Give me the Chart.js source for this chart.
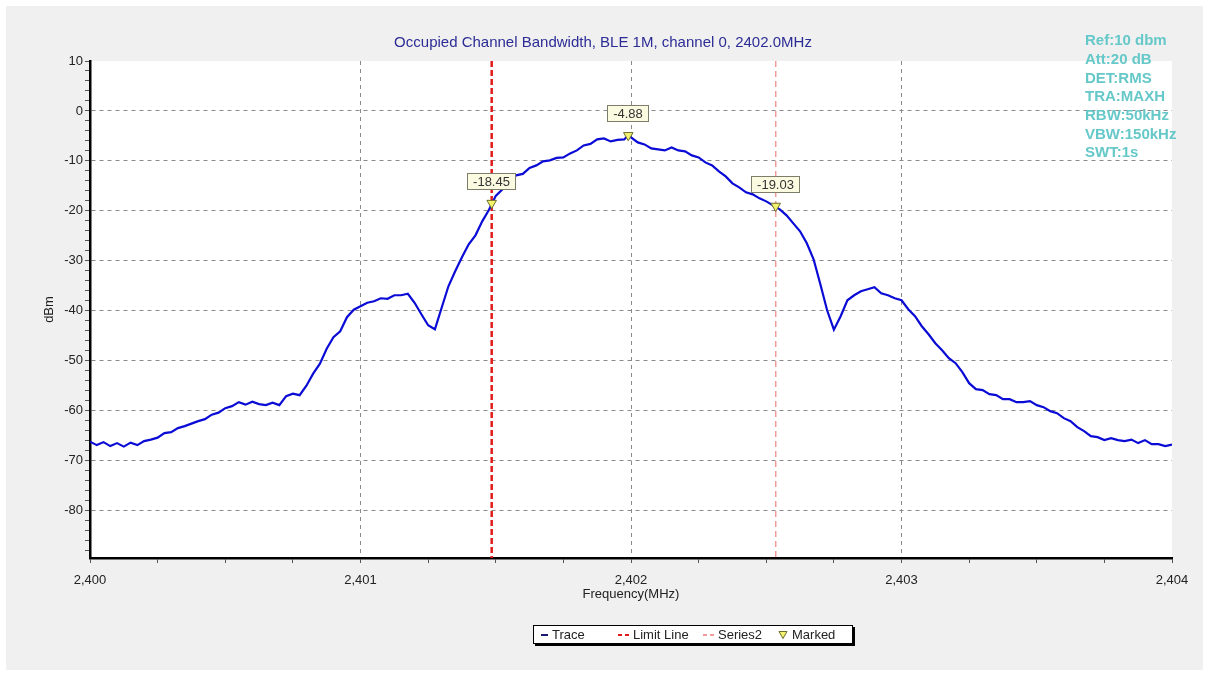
<!DOCTYPE html>
<html>
<head>
<meta charset="utf-8">
<title>Occupied Channel Bandwidth</title>
<script src="https://cdn.jsdelivr.net/npm/chart.js@4.4.1/dist/chart.umd.min.js"></script>
<style>
  html, body { margin: 0; padding: 0; background: #fff; }
</style>
</head>
<body>
<canvas id="ocb" width="1206" height="673"></canvas>
<script>
// spectrum trace (MHz / dBm)
const freq = [
  2400.000, 2400.025, 2400.050, 2400.075, 2400.100, 2400.125, 2400.150, 2400.175, 2400.200, 2400.225,
  2400.250, 2400.275, 2400.300, 2400.325, 2400.350, 2400.375, 2400.400, 2400.425, 2400.450, 2400.475,
  2400.500, 2400.525, 2400.550, 2400.575, 2400.600, 2400.625, 2400.650, 2400.675, 2400.700, 2400.725,
  2400.750, 2400.775, 2400.800, 2400.825, 2400.850, 2400.875, 2400.900, 2400.925, 2400.950, 2400.975,
  2401.000, 2401.025, 2401.050, 2401.075, 2401.100, 2401.125, 2401.150, 2401.175, 2401.200, 2401.225,
  2401.250, 2401.275, 2401.300, 2401.325, 2401.350, 2401.375, 2401.400, 2401.425, 2401.450, 2401.475,
  2401.500, 2401.525, 2401.550, 2401.575, 2401.600, 2401.625, 2401.650, 2401.675, 2401.700, 2401.725,
  2401.750, 2401.775, 2401.800, 2401.825, 2401.850, 2401.875, 2401.900, 2401.925, 2401.950, 2401.975,
  2401.990,
  2402.000, 2402.025, 2402.050, 2402.075, 2402.100, 2402.125, 2402.150, 2402.175, 2402.200, 2402.225,
  2402.250, 2402.275, 2402.300, 2402.325, 2402.350, 2402.375, 2402.400, 2402.425, 2402.450, 2402.475,
  2402.500, 2402.525, 2402.550, 2402.575, 2402.600, 2402.625, 2402.650, 2402.675, 2402.700, 2402.725,
  2402.750, 2402.775, 2402.800, 2402.825, 2402.850, 2402.875, 2402.900, 2402.925, 2402.950, 2402.975,
  2403.000, 2403.025, 2403.050, 2403.075, 2403.100, 2403.125, 2403.150, 2403.175, 2403.200, 2403.225,
  2403.250, 2403.275, 2403.300, 2403.325, 2403.350, 2403.375, 2403.400, 2403.425, 2403.450, 2403.475,
  2403.500, 2403.525, 2403.550, 2403.575, 2403.600, 2403.625, 2403.650, 2403.675, 2403.700, 2403.725,
  2403.750, 2403.775, 2403.800, 2403.825, 2403.850, 2403.875, 2403.900, 2403.925, 2403.950, 2403.975,
  2404.000
];
const level = [
  -66.2, -66.9, -66.3, -67.1, -66.5, -67.2, -66.4, -66.9, -66.1, -65.8,
  -65.4, -64.5, -64.3, -63.5, -63.1, -62.6, -62.1, -61.7, -60.8, -60.4,
  -59.5, -59.1, -58.3, -58.8, -58.2, -58.7, -58.9, -58.4, -58.9, -57.1,
  -56.6, -56.9, -55.0, -52.6, -50.6, -47.6, -45.3, -44.1, -41.3, -39.8,
  -39.1, -38.4, -38.1, -37.5, -37.6, -36.9, -36.9, -36.6, -38.4, -40.7,
  -42.9, -43.7, -39.4, -35.1, -32.1, -29.3, -26.7, -24.9, -22.1, -19.8,
  -17.0, -15.7, -14.1, -12.9, -12.6, -11.4, -10.9, -10.1, -9.9, -9.4,
  -9.3, -8.5, -7.9, -6.9, -6.6, -5.7, -5.5, -6.1, -5.8, -5.7,
  -4.88,
  -5.3, -6.3, -6.7, -7.5, -7.7, -7.9, -7.3, -7.9, -8.1, -8.9,
  -9.3, -10.3, -10.9, -12.1, -13.1, -14.5, -15.3, -16.3, -16.7, -17.5,
  -18.1, -18.9, -19.7, -20.9, -22.5, -24.1, -26.5, -29.7, -34.7, -39.9,
  -43.8, -41.1, -37.9, -36.9, -36.1, -35.7, -35.3, -36.5, -36.9, -37.5,
  -37.9, -39.7, -41.1, -43.1, -44.7, -46.5, -47.9, -49.5, -50.5, -52.3,
  -54.5, -55.7, -55.9, -56.7, -56.9, -57.7, -57.7, -58.3, -58.3, -58.1,
  -58.9, -59.3, -60.1, -60.5, -61.5, -62.1, -63.3, -64.1, -65.1, -65.3,
  -65.9, -65.5, -65.9, -66.1, -65.8, -66.5, -65.9, -66.7, -66.7, -67.1,
  -66.8
];

// markers and limit lines
const markerFreq = [2401.485, 2401.990, 2402.535];
const markerDbm = [-18.45, -4.88, -19.03];
const limitFreq = 2401.485;
const series2Freq = 2402.535;

// axis range
const yMin = -89.5;
const yMax = 10;
const xMin = 2400;
const xMax = 2404;

const infoLines = ['Ref:10 dbm', 'Att:20 dB', 'DET:RMS', 'TRA:MAXH', 'RBW:50kHz', 'VBW:150kHz', 'SWT:1s'];

const FONT = '"Liberation Sans", Arial, sans-serif';
Chart.defaults.font.family = FONT;
Chart.defaults.font.size = 13;

// grey panel + white plot area
const panelPlugin = {
  id: 'panel',
  beforeDraw(chart) {
    const ctx = chart.ctx;
    const a = chart.chartArea;
    ctx.save();
    ctx.fillStyle = '#ffffff';
    ctx.fillRect(0, 0, chart.width, chart.height);
    ctx.fillStyle = '#f0f0f0';
    ctx.fillRect(6, 6, chart.width - 9, chart.height - 9);
    ctx.fillStyle = '#ffffff';
    ctx.fillRect(a.left, a.top, a.right - a.left, a.bottom - a.top);
    ctx.restore();
  }
};

// value boxes above the markers
const markerLabels = {
  id: 'markerLabels',
  afterDatasetsDraw(chart) {
    const ctx = chart.ctx;
    const idx = chart.data.datasets.findIndex(d => d.label === 'Marked');
    const meta = chart.getDatasetMeta(idx);
    ctx.save();
    ctx.font = '13px ' + FONT;
    ctx.textAlign = 'center';
    ctx.textBaseline = 'middle';
    meta.data.forEach((pt, i) => {
      const txt = markerDbm[i].toFixed(2);
      const w = Math.round(ctx.measureText(txt).width) + 12;
      const h = 17;
      const x = Math.round(pt.x - w / 2);
      const y = Math.round(pt.y - 30);
      ctx.fillStyle = '#fbfbe2';
      ctx.fillRect(x, y, w, h);
      ctx.strokeStyle = '#7d7d6a';
      ctx.lineWidth = 1;
      ctx.strokeRect(x + 0.5, y + 0.5, w - 1, h - 1);
      ctx.fillStyle = '#333';
      ctx.fillText(txt, x + w / 2, y + h / 2 + 1);
    });
    ctx.restore();
  }
};

// analyser settings, top right
const infoBox = {
  id: 'infoBox',
  afterDraw(chart) {
    const ctx = chart.ctx;
    ctx.save();
    ctx.font = 'bold 15px ' + FONT;
    ctx.fillStyle = '#66c8c8';
    ctx.textBaseline = 'middle';
    infoLines.forEach((t, i) => ctx.fillText(t, 1085, 41 + i * 18.7));
    ctx.restore();
  }
};

// boxed legend at the bottom
const boxLegend = {
  id: 'boxLegend',
  afterDraw(chart) {
    const ctx = chart.ctx;
    const bx = 533, by = 625, bw = 320, bh = 19;
    const cols = [8, 85, 170, 246];
    const cy = by + bh / 2;
    ctx.save();
    ctx.fillStyle = '#000';
    ctx.fillRect(bx + 2, by + 2, bw, bh);
    ctx.fillStyle = '#fff';
    ctx.fillRect(bx, by, bw, bh);
    ctx.strokeStyle = '#000';
    ctx.lineWidth = 1;
    ctx.strokeRect(bx + 0.5, by + 0.5, bw - 1, bh - 1);
    ctx.font = '13px ' + FONT;
    ctx.textBaseline = 'middle';
    chart.data.datasets.forEach((ds, i) => {
      const x = bx + cols[i];
      let tx;
      if (ds.pointStyle === 'triangle') {
        ctx.fillStyle = ds.backgroundColor;
        ctx.strokeStyle = ds.borderColor;
        ctx.lineWidth = 1;
        ctx.beginPath();
        ctx.moveTo(x, cy - 3);
        ctx.lineTo(x + 8, cy - 3);
        ctx.lineTo(x + 4, cy + 4);
        ctx.closePath();
        ctx.fill();
        ctx.stroke();
        tx = x + 13;
      } else {
        ctx.strokeStyle = ds.borderColor;
        ctx.lineWidth = 2;
        if (ds.borderDash) {
          ctx.setLineDash([4, 3]);
          ctx.beginPath();
          ctx.moveTo(x, cy + 0.5);
          ctx.lineTo(x + 12, cy + 0.5);
          ctx.stroke();
          ctx.setLineDash([]);
          tx = x + 15;
        } else {
          ctx.strokeStyle = '#1a1a70';
          ctx.beginPath();
          ctx.moveTo(x, cy + 0.5);
          ctx.lineTo(x + 7, cy + 0.5);
          ctx.stroke();
          tx = x + 11;
        }
      }
      ctx.fillStyle = '#222';
      ctx.fillText(ds.label, tx, cy + 1);
    });
    ctx.restore();
  }
};

const isWhole = v => Math.abs(v - Math.round(v)) < 1e-6;

new Chart(document.getElementById('ocb'), {
  type: 'line',
  data: {
    datasets: [
      {
        label: 'Trace',
        data: freq.map((f, i) => ({ x: f, y: level[i] })),
        borderColor: '#0b0bd6',
        borderWidth: 2.2,
        pointRadius: 0,
        order: 1
      },
      {
        label: 'Limit Line',
        data: [{ x: limitFreq, y: yMax }, { x: limitFreq, y: yMin }],
        borderColor: '#e21c1c',
        borderWidth: 2.5,
        borderDash: [6, 3],
        pointRadius: 0,
        order: 2
      },
      {
        label: 'Series2',
        data: [{ x: series2Freq, y: yMax }, { x: series2Freq, y: yMin }],
        borderColor: '#f29a9a',
        borderWidth: 1.5,
        borderDash: [6, 4],
        pointRadius: 0,
        order: 2
      },
      {
        label: 'Marked',
        data: markerFreq.map((f, i) => ({ x: f, y: markerDbm[i] })),
        showLine: false,
        pointStyle: 'triangle',
        rotation: 180,
        pointRadius: 5.5,
        backgroundColor: '#f3f36e',
        borderColor: '#6d6d2c',
        borderWidth: 1,
        order: 0
      }
    ]
  },
  options: {
    responsive: false,
    animation: false,
    layout: { padding: { left: 34, right: 34, top: 0, bottom: 70 } },
    plugins: {
      legend: { display: false },
      tooltip: { enabled: false },
      title: {
        display: true,
        text: 'Occupied Channel Bandwidth, BLE 1M, channel 0, 2402.0MHz',
        color: '#2c2c96',
        font: { size: 15, weight: 'normal' },
        padding: { top: 34, bottom: 9 }
      }
    },
    scales: {
      x: {
        type: 'linear',
        min: xMin,
        max: xMax,
        afterFit(s) { s.height = 45; },
        border: { color: '#000', width: 2.5, dash: [4, 4] },
        grid: {
          color: c => (c.tick && isWhole(c.tick.value) && c.tick.value > xMin && c.tick.value < xMax) ? '#8a8a8a' : 'rgba(0,0,0,0)',
          tickColor: '#555',
          tickLength: 5,
          lineWidth: 1
        },
        ticks: {
          stepSize: 0.25,
          autoSkip: false,
          maxRotation: 0,
          padding: 10,
          color: '#222',
          callback: v => isWhole(v) ? Math.round(v).toLocaleString('en-US') : ''
        },
        title: {
          display: true,
          text: 'Frequency(MHz)',
          color: '#222',
          padding: { top: 0, bottom: 1 }
        }
      },
      y: {
        min: yMin,
        max: yMax,
        afterFit(s) { s.width = 56; },
        border: { color: '#000', width: 2.5, dash: [4, 4] },
        grid: {
          color: c => (c.tick && c.tick.value % 10 === 0 && c.tick.value < yMax) ? '#8a8a8a' : 'rgba(0,0,0,0)',
          tickColor: '#555',
          tickLength: 5,
          lineWidth: 1
        },
        ticks: {
          stepSize: 2,
          includeBounds: false,
          autoSkip: false,
          padding: 2,
          color: '#222',
          callback: v => v % 10 === 0 ? v : ''
        },
        title: {
          display: true,
          text: 'dBm',
          color: '#222',
          padding: { top: 8, bottom: 0 }
        }
      }
    }
  },
  plugins: [panelPlugin, markerLabels, infoBox, boxLegend]
});
</script>
</body>
</html>
